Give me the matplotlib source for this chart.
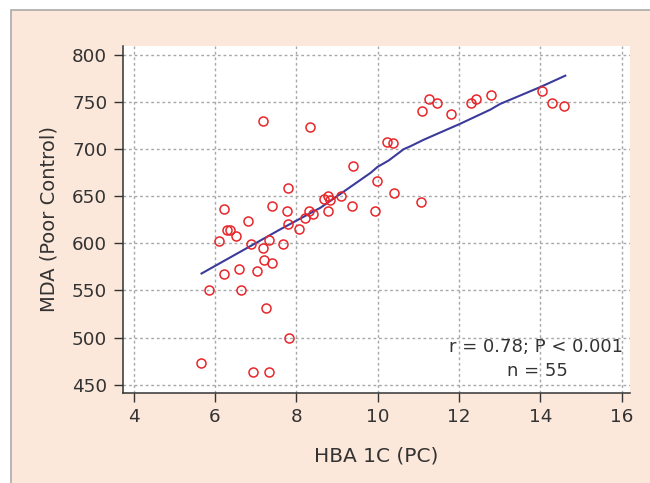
import numpy as np
import matplotlib
matplotlib.use('agg')
import matplotlib.pyplot as plt
from matplotlib.patches import Rectangle

## Datos
hba1c = [7.18, 8.34, 9.40, 7.80, 9.99, 6.21, 7.39, 7.77, 8.30, 8.42,
         8.68, 8.79, 8.82, 9.09, 8.77, 9.37, 9.93, 8.21, 6.80, 7.80,
         6.30, 6.38, 8.06, 11.25, 11.46, 11.09, 11.81, 12.29, 12.42, 12.78,
         14.04, 14.28, 14.58, 10.22, 10.38, 10.40, 11.07, 6.51, 6.11, 6.88,
         7.19, 7.33, 7.66, 7.20, 7.40, 7.04, 6.60, 6.21, 5.85, 6.65,
         7.26, 7.81, 5.65, 6.94, 7.33]
mda = [730, 724, 682, 659, 666, 637, 640, 634, 634, 631,
       647, 650, 646, 650, 634, 640, 634, 627, 624, 621,
       614, 614, 615, 753, 749, 740, 737, 749, 753, 757,
       762, 749, 746, 708, 707, 653, 644, 608, 602, 599,
       595, 604, 599, 582, 579, 571, 573, 568, 551, 551,
       531, 500, 473, 464, 464]

# curva suavizada
fit_x = [5.67, 7.61, 8.60, 9.83, 9.99, 10.27, 10.64, 10.80, 11.13, 12.03, 12.77, 13.01, 14.00, 14.61]
fit_y = [568, 615, 638, 675, 681, 688, 700, 703, 710, 727, 742, 748, 766, 778]

xticks = [4, 6, 8, 10, 12, 14, 16]
yticks = [450, 500, 550, 600, 650, 700, 750, 800]

Xlabel = 'HBA 1C (PC)'
Ylabel = 'MDA (Poor Control)'

plt.rcParams['font.family'] = ['DejaVu Sans']
textcol = '#333333'
peach = '#FCE8DA'

## Figura
fig = plt.figure(figsize=(6.5, 4.83), dpi=100)
fig.patch.set_facecolor('white')
fig.patches.append(Rectangle((11/650, -0.1), 1.2, 1.1 - 10/483,
                             transform=fig.transFigure, facecolor=peach,
                             edgecolor='#aaaaaa', linewidth=1.2, zorder=-1))

ax = fig.add_axes([123/650, 1 - 392.7/483, (630 - 123)/650, (392.7 - 45.7)/483])
ax.set_facecolor('white')

ax.plot(hba1c, mda, 'o', markersize=6.5, markerfacecolor='none',
        markeredgecolor='#E8262A', markeredgewidth=1.1, zorder=3)
ax.plot(fit_x, fit_y, color='#3B3B9B', linewidth=1.5, zorder=2)

ax.set_xlim(3.74, 16.2)
ax.set_ylim(441.5, 809.8)
ax.set_xticks(xticks)
ax.set_yticks(yticks)
ax.grid(color='#a8a8a8', linestyle=(0, (2, 2)), linewidth=1)
ax.set_axisbelow(True)

for s in ['top', 'right']:
    ax.spines[s].set_visible(False)
for s in ['left', 'bottom']:
    ax.spines[s].set_color('#333333')
    ax.spines[s].set_linewidth(1.1)

ax.tick_params(direction='out', length=6.5, width=1, colors=textcol,
               labelsize=13.2)
ax.tick_params(axis='y', pad=4.8)
ax.tick_params(axis='x', pad=4.5)

ax.set_xlabel(Xlabel, fontsize=14.5, color=textcol, labelpad=15)
ax.set_ylabel(Ylabel, fontsize=14, color=textcol, labelpad=10)

ax.text(16.04, 484.6, 'r = 0.78; P < 0.001', ha='right', va='baseline',
        fontsize=13, color=textcol)
ax.text(13.93, 459.1, 'n = 55', ha='center', va='baseline',
        fontsize=13, color=textcol)

plt.savefig('out.png', dpi=100, facecolor=fig.get_facecolor())
